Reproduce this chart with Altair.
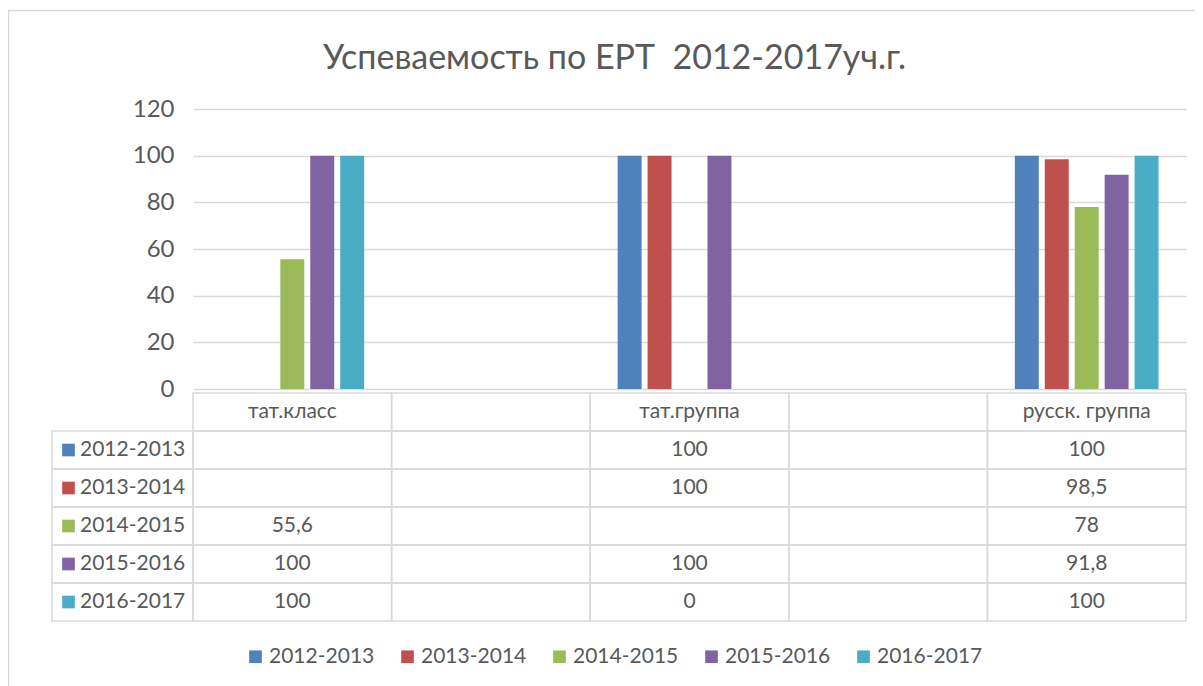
import altair as alt
import pandas as pd
import math

# ---- data ----
categories = ["тат.класс", " ", "тат.группа", "  ", "русск. группа"]
series = ["2012-2013", "2013-2014", "2014-2015", "2015-2016", "2016-2017"]
colors = ["#4F81BD", "#C0504D", "#9BBB59", "#8064A2", "#4BACC6"]
nan = float("nan")
values = {
    "2012-2013": [nan, nan, 100, nan, 100],
    "2013-2014": [nan, nan, 100, nan, 98.5],
    "2014-2015": [55.6, nan, nan, nan, 78],
    "2015-2016": [100, nan, 100, nan, 91.8],
    "2016-2017": [100, nan, 0, nan, 100],
}
y_ticks = [0, 20, 40, 60, 80, 100, 120]
title = "Успеваемость по ЕРТ \u00a02012-2017уч.г."

TXT = "#595959"
GRID = "#D9D9D9"
FONT = "Lato"

def fmt(v):
    if v is None or (isinstance(v, float) and math.isnan(v)):
        return ""
    if float(v).is_integer():
        return str(int(v))
    return str(v).replace(".", ",")

# long table for bars
bar_rows = []
for s in series:
    for c, v in zip(categories, values[s]):
        if not (isinstance(v, float) and math.isnan(v)):
            bar_rows.append({"cat": c, "series": s, "value": v})
bars_df = pd.DataFrame(bar_rows)

# data-table cells
HDR = "hdr"
row_domain = [HDR] + series
cell_rows = []
for c in categories:
    cell_rows.append({"cat": c, "row": HDR, "text": c.strip()})
for s in series:
    for c, v in zip(categories, values[s]):
        cell_rows.append({"cat": c, "row": s, "text": fmt(v)})
cells_df = pd.DataFrame(cell_rows)
keys_df = pd.DataFrame({"row": series, "series": series})

W, H = 993, 280
x_scale = alt.Scale(domain=categories, paddingInner=0, paddingOuter=0)
color_scale = alt.Scale(domain=series, range=colors)
row_scale = alt.Scale(domain=row_domain, range=[284, 512], paddingInner=0, paddingOuter=0)

frame = alt.Chart(pd.DataFrame({"a": [0]})).mark_rect(
    fill=None, stroke=GRID, strokeWidth=1.5
).encode(
    x=alt.value(-184.5), x2=alt.value(1300), y=alt.value(-98.5), y2=alt.value(800)
)

bars = alt.Chart(bars_df).mark_bar().encode(
    x=alt.X("cat:N", scale=x_scale, axis=None, sort=categories),
    xOffset=alt.XOffset("series:N", scale=alt.Scale(domain=series, paddingInner=0.2, paddingOuter=0.917)),
    y=alt.Y("value:Q", scale=alt.Scale(domain=[0, 120]),
            axis=alt.Axis(values=y_ticks, grid=True, gridColor=GRID, gridWidth=1.3,
                          domain=False, ticks=False, labelPadding=19,
                          labelFontSize=24, labelColor=TXT, labelFont=FONT, title=None)),
    color=alt.Color("series:N", scale=color_scale, sort=series,
                    legend=alt.Legend(orient="none", legendX=52, legendY=537,
                                      direction="horizontal", title=None,
                                      symbolType="square", symbolSize=160,
                                      symbolStrokeWidth=0, labelFontSize=21,
                                      labelColor=TXT, labelFont=FONT,
                                      columnPadding=22, labelOffset=3)),
)

cells = alt.Chart(cells_df).mark_rect(fill="white", fillOpacity=0, stroke=GRID, strokeWidth=1.5).encode(
    x=alt.X("cat:N", scale=x_scale, axis=None),
    y=alt.Y("row:N", scale=row_scale, axis=None),
)

key_cells = alt.Chart(keys_df).mark_rect(fill="white", fillOpacity=0, stroke=GRID, strokeWidth=1.5).encode(
    x=alt.value(-141), x2=alt.value(0),
    y=alt.Y("row:N", scale=row_scale, axis=None),
)

cell_text = alt.Chart(cells_df).mark_text(fontSize=21, color=TXT, font=FONT).encode(
    x=alt.X("cat:N", scale=x_scale, axis=None),
    y=alt.Y("row:N", scale=row_scale, axis=None),
    text="text:N",
)

key_marks = alt.Chart(keys_df).mark_point(shape="square", filled=True, size=160, opacity=1).encode(
    x=alt.value(-124.5),
    y=alt.Y("row:N", scale=row_scale, axis=None),
    color=alt.Color("series:N", scale=color_scale, legend=None),
)

key_text = alt.Chart(keys_df).mark_text(align="left", fontSize=21, color=TXT, font=FONT).encode(
    x=alt.value(-113),
    y=alt.Y("row:N", scale=row_scale, axis=None),
    text="series:N",
)

chart = alt.layer(frame, bars, cells, key_cells, cell_text, key_marks, key_text).resolve_scale(
    y="independent"
).properties(
    width=W, height=H,
    padding={"left": 185, "top": 101, "right": 9, "bottom": 297},
    autosize=alt.AutoSizeParams(type="none"),
    title=alt.TitleParams(title, fontSize=34, font=FONT, color=TXT, fontWeight="normal",
                          anchor="middle", frame="group", dx=-75, offset=-93,
                          baseline="alphabetic"),
    background="white",
).configure_view(stroke=None)

chart.save("out.html", embed_options={"renderer": "svg", "actions": False})
